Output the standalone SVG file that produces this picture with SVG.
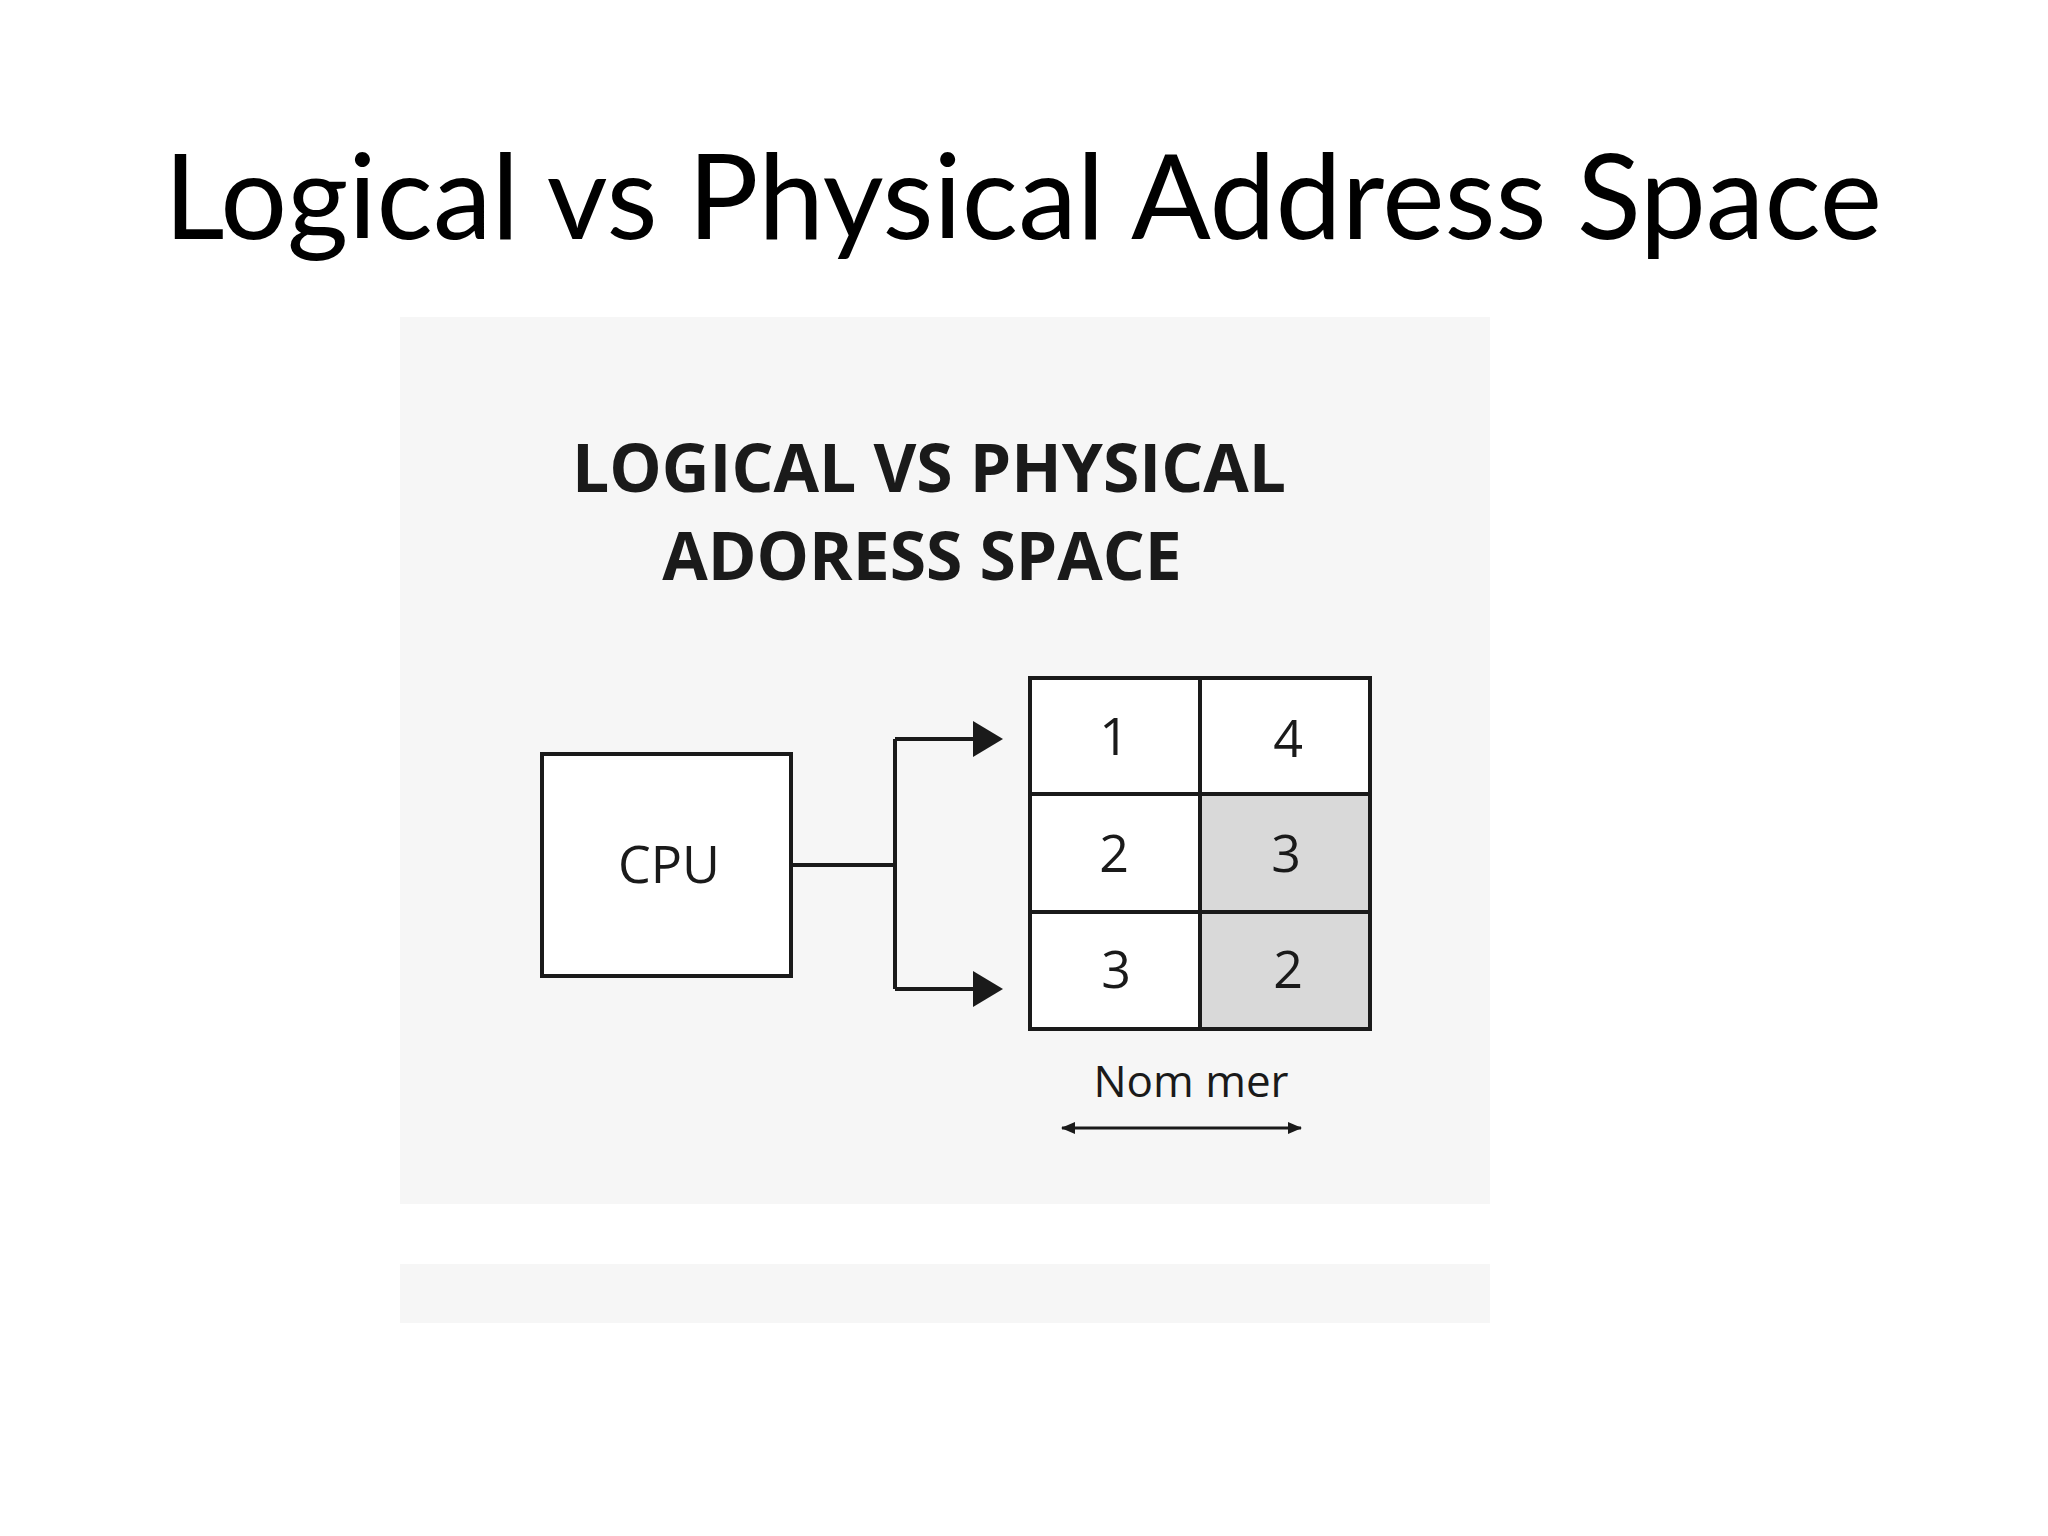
<svg xmlns="http://www.w3.org/2000/svg" width="2048" height="1536" viewBox="0 0 2048 1536">
<defs>
<style>
.t{font-family:"Open Sans","Noto Sans",sans-serif;fill:#1a1a1a}
.n{font-family:"Open Sans","Noto Sans",sans-serif;font-size:52px;fill:#1a1a1a;text-anchor:middle}
.ln{stroke:#1a1a1a;stroke-width:4;fill:none}
</style>
<marker id="ah" markerWidth="10" markerHeight="10" refX="9" refY="5" orient="auto" markerUnits="userSpaceOnUse" viewBox="0 0 10 10"><path d="M0,0L10,5L0,10z" fill="#1a1a1a"/></marker>
<marker id="sa" markerWidth="14" markerHeight="12" refX="13" refY="6" orient="auto-start-reverse" markerUnits="userSpaceOnUse"><path d="M0,0L14,6L0,12z" fill="#1a1a1a"/></marker>
</defs>
<rect width="2048" height="1536" fill="#fff"/>
<text x="1023" y="239" text-anchor="middle" font-family="Lato,sans-serif" font-size="118" fill="#000">Logical vs Physical Address Space</text>
<rect x="400" y="317" width="1090" height="887" fill="#f6f6f6"/>
<rect x="400" y="1264" width="1090" height="59" fill="#f6f6f6"/>
<text class="t" x="929" y="492" text-anchor="middle" font-size="66" font-weight="bold">LOGICAL VS PHYSICAL</text>
<text class="t" x="922" y="580" text-anchor="middle" font-size="66" font-weight="bold">ADORESS SPACE</text>
<g id="cpu"><rect x="542" y="754" width="249" height="222" fill="#fff" stroke="#1a1a1a" stroke-width="4"/><text class="n" x="669" y="883">CPU</text></g>
<g id="connectors">
<path class="ln" d="M791,865H895"/>
<path class="ln" d="M895,739V989"/>
<path d="M895,739H973" class="ln"/><path d="M973,721L1003,739L973,757z" fill="#1a1a1a"/>
<path d="M895,989H973" class="ln"/><path d="M973,971L1003,989L973,1007z" fill="#1a1a1a"/>
<path d="M1062,1128H1301" stroke="#1a1a1a" stroke-width="3" marker-start="url(#sa)" marker-end="url(#sa)"/>
</g>
<g id="grid">
<rect x="1030" y="678" width="340" height="351" fill="#fff"/>
<rect x="1200" y="794" width="170" height="235" fill="#d9d9d9"/>
<rect x="1030" y="678" width="340" height="351" class="ln"/>
<path class="ln" d="M1200,678V1029M1030,794H1370M1030,912H1370"/>
<text class="n" x="1114" y="755">1</text><text class="n" x="1288" y="757">4</text>
<text class="n" x="1114" y="872">2</text><text class="n" x="1286" y="872">3</text>
<text class="n" x="1116" y="988">3</text><text class="n" x="1288" y="988">2</text>
</g>
<text class="t" x="1191" y="1097" text-anchor="middle" font-size="44">Nom mer</text>
</svg>
